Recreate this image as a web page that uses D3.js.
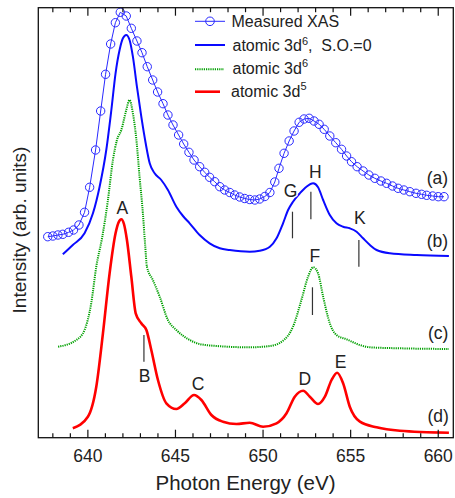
<!DOCTYPE html>
<html><head><meta charset="utf-8">
<script src="https://cdn.jsdelivr.net/npm/d3@7"></script>
<style>
body{margin:0;background:#fff;}
svg{display:block;font-family:"Liberation Sans",Arial,sans-serif;}
</style></head>
<body><svg id="c" width="455" height="498"></svg>
<script>
// ---------- data ----------
const xasE = [637.71,638.00,638.29,638.57,638.90,639.18,639.49,639.81,640.10,640.44,640.73,641.01,641.30,641.57,641.85,642.19,642.48,642.80,643.09,643.39,643.70,643.98,644.29,644.57,644.86,645.18,645.47,645.77,646.06,646.38,646.67,646.95,647.24,647.53,647.81,648.10,648.38,648.67,648.95,649.24,649.53,649.81,650.10,650.39,650.67,650.91,651.20,651.49,651.77,652.06,652.34,652.63,652.91,653.20,653.49,653.81,654.15,654.48,654.77,655.05,655.37,655.71,656.04,656.38,656.73,657.05,657.39,657.71,658.04,658.38,658.73,659.05,659.34,659.68,660.00,660.33];
const xasI = [20.10,20.17,20.27,20.34,20.54,20.77,21.27,22.54,25.04,28.77,32.67,36.34,39.37,41.50,42.54,42.17,40.94,39.67,38.50,37.10,35.77,34.57,33.40,32.27,31.27,30.27,29.37,28.54,27.77,27.10,26.54,26.04,25.60,25.10,24.77,24.52,24.27,24.07,23.92,23.82,23.77,23.87,24.12,24.52,25.57,26.94,28.44,29.67,30.67,31.54,31.87,31.94,31.67,31.34,30.84,30.17,29.50,28.84,28.17,27.60,27.10,26.67,26.27,25.94,25.67,25.44,25.17,24.94,24.77,24.60,24.44,24.34,24.24,24.17,24.10,24.10];

const bE = [638.57,639.14,639.81,640.29,640.67,641.05,641.34,641.58,641.81,642.00,642.19,642.38,642.57,642.80,643.05,643.30,643.53,643.81,644.19,644.57,645.05,645.43,645.81,646.38,646.95,647.53,648.10,649.24,649.81,650.39,650.77,651.14,651.43,651.71,652.10,652.48,652.86,653.14,653.43,653.81,654.19,654.57,654.95,655.34,655.71,656.10,656.48,657.24,658.77,660.61];
const bI = [18.34,19.27,20.44,22.44,25.10,28.77,32.77,36.44,38.77,39.94,40.27,39.77,38.10,35.10,32.10,29.44,27.44,26.44,25.77,24.77,23.10,22.17,21.44,20.27,19.44,18.94,18.77,18.60,18.70,19.10,19.94,21.44,22.77,23.60,24.44,25.10,25.44,25.04,23.77,22.27,21.44,21.10,20.94,20.60,19.94,19.27,18.77,18.44,18.27,18.17];

const cE = [638.30,639.34,639.81,640.19,640.48,640.81,641.13,641.43,641.66,641.91,642.19,642.38,642.57,642.77,642.95,643.14,643.27,643.37,643.71,644.10,644.57,645.05,645.81,646.38,647.34,649.24,650.38,651.14,651.71,652.19,652.57,652.86,653.14,653.43,653.81,654.19,654.77,655.53,656.10,657.81,660.61];
const cI = [9.10,9.77,10.77,13.44,17.10,19.97,23.57,27.77,29.77,30.77,32.77,33.77,32.44,29.77,26.10,22.44,19.27,17.10,15.77,14.10,11.77,10.77,9.77,9.37,9.17,9.04,9.17,9.70,11.10,13.77,16.10,17.04,16.44,14.10,11.44,10.27,9.84,9.27,9.04,8.94,8.87];

const dE = [639.14,640.00,640.48,640.86,641.24,641.58,641.75,641.91,642.06,642.23,642.48,642.73,643.05,643.34,643.62,644.00,644.48,645.05,645.53,646.06,646.48,647.05,647.71,648.48,649.24,650.00,650.77,651.34,651.81,652.29,652.67,653.14,653.53,653.91,654.23,654.57,654.95,655.53,656.48,657.81,660.61];
const dI = [0.94,2.10,5.10,10.44,16.44,20.44,21.52,21.85,21.37,19.77,16.10,12.44,11.44,10.77,8.77,5.77,3.44,2.87,3.44,4.27,3.77,2.27,1.60,1.37,1.50,1.10,1.44,2.44,4.10,4.70,4.10,3.37,4.10,5.77,6.50,5.44,3.10,1.60,1.04,0.70,0.50];

const xTicks = [640,645,650,655,660];
const peakNames = ["A","B","C","D","E","F","G","H","K"];
const peakE     = [641.97,643.24,646.29,652.38,654.42,652.95,651.57,652.99,655.53];
const peakI     = [22.42,5.60,4.82,5.27,6.94,17.60,24.10,25.94,21.37];
const markE  = [643.20,652.82,651.68,652.73,655.47];
const markI1 = [10.27,15.04,22.60,24.60,19.77];
const markI2 = [7.60,12.27,19.94,21.84,17.10];
const curveNames = ["(a)","(b)","(c)","(d)"];
const curveLabE = [659.95,659.95,660.0,660.0];
const curveLabI = [25.37,19.04,9.84,1.60];

// ---------- chart ----------
const svg = d3.select("#c");
const L=38.3,R=453.3,T=7.7,B=437.7;
const x = d3.scaleLinear().domain([637.17,660.86]).range([L,R]);
const y = d3.scaleLinear().domain([0,43]).range([B,T]);
const txt = "#222";

const zip = (E,I)=>E.map((e,i)=>[e,I[i]]);
const line = d3.line().x(d=>x(d[0])).y(d=>y(d[1])).curve(d3.curveMonotoneX);
const lineLin = d3.line().x(d=>x(d[0])).y(d=>y(d[1]));

// curves
svg.append("path").attr("d",line(zip(dE,dI))).attr("fill","none").attr("stroke","#ff0000").attr("stroke-width",2.6);
svg.append("path").attr("d",line(zip(cE,cI))).attr("fill","none").attr("stroke","#00a000").attr("stroke-width",2).attr("stroke-dasharray","1.2,1");
svg.append("path").attr("d",line(zip(bE,bI))).attr("fill","none").attr("stroke","#0a0aff").attr("stroke-width",2);
svg.append("path").attr("d",lineLin(zip(xasE,xasI))).attr("fill","none").attr("stroke","#2a2aff").attr("stroke-width",1);
svg.append("g").selectAll("circle").data(zip(xasE,xasI)).join("circle")
  .attr("cx",d=>x(d[0])).attr("cy",d=>y(d[1])).attr("r",4.2)
  .attr("fill","none").attr("stroke","#2a2aff").attr("stroke-width",1);

// markers
svg.append("g").selectAll("line").data(markE).join("line")
  .attr("x1",d=>x(d)).attr("x2",d=>x(d))
  .attr("y1",(d,i)=>y(markI1[i])).attr("y2",(d,i)=>y(markI2[i]))
  .attr("stroke","#333").attr("stroke-width",1.2);

// peak labels
svg.append("g").selectAll("text").data(peakNames).join("text")
  .attr("x",(d,i)=>x(peakE[i])).attr("y",(d,i)=>y(peakI[i]))
  .attr("text-anchor","middle").attr("font-size",17.5).attr("fill",txt)
  .attr("stroke",d=>d==="G"?"#fff":"none").attr("stroke-width",3).attr("paint-order","stroke")
  .text(d=>d);

// curve labels
svg.append("g").selectAll("text").data(curveNames).join("text")
  .attr("x",(d,i)=>x(curveLabE[i])).attr("y",(d,i)=>y(curveLabI[i]))
  .attr("text-anchor","middle").attr("font-size",17.5).attr("fill",txt).text(d=>d);

// frame and axes
svg.append("rect").attr("x",L).attr("y",T).attr("width",R-L).attr("height",B-T)
  .attr("fill","none").attr("stroke","#111").attr("stroke-width",1.3);
const minor = d3.range(638,661,1);
const gB = svg.append("g");
gB.selectAll("line.b").data(minor).join("line").attr("class","b")
  .attr("x1",d=>x(d)).attr("x2",d=>x(d)).attr("y1",B)
  .attr("y2",d=>B-(d%5===0?8:4.5)).attr("stroke","#111").attr("stroke-width",1.2);
gB.selectAll("line.t").data(minor).join("line").attr("class","t")
  .attr("x1",d=>x(d)).attr("x2",d=>x(d)).attr("y1",T)
  .attr("y2",d=>T+(d%5===0?8:4.5)).attr("stroke","#111").attr("stroke-width",1.2);
svg.append("g").selectAll("text").data(xTicks).join("text")
  .attr("x",d=>x(d)).attr("y",461.5).attr("text-anchor","middle")
  .attr("font-size",17.5).attr("fill",txt).text(d=>d);

svg.append("text").attr("x",245.5).attr("y",490).attr("text-anchor","middle")
  .attr("font-size",20.5).attr("fill",txt).text("Photon Energy (eV)");
svg.append("text").attr("transform","translate(26,230) rotate(-90)").attr("text-anchor","middle")
  .attr("font-size",19).attr("fill",txt).text("Intensity (arb. units)");

// legend
const lg = svg.append("g").attr("font-size",16).attr("fill",txt);
lg.append("line").attr("x1",195).attr("x2",225).attr("y1",21.3).attr("y2",21.3).attr("stroke","#2a2aff").attr("stroke-width",1);
lg.append("circle").attr("cx",210).attr("cy",21.3).attr("r",4.3).attr("fill","none").attr("stroke","#2a2aff").attr("stroke-width",1);
lg.append("text").attr("x",231.5).attr("y",26.7).text("Measured XAS");
lg.append("line").attr("x1",195).attr("x2",225).attr("y1",45).attr("y2",45).attr("stroke","#0a0aff").attr("stroke-width",2);
let t2 = lg.append("text").attr("x",232.5).attr("y",50.7);
t2.append("tspan").text("atomic 3d");
t2.append("tspan").attr("font-size",11).attr("dy",-6).text("6");
t2.append("tspan").attr("dy",6).attr("xml:space","preserve").text(",\u00a0 S.O.=0");
lg.append("line").attr("x1",195).attr("x2",224).attr("y1",69.3).attr("y2",69.3).attr("stroke","#00a000").attr("stroke-width",2).attr("stroke-dasharray","1.2,1");
let t3 = lg.append("text").attr("x",232.5).attr("y",74);
t3.append("tspan").text("atomic 3d");
t3.append("tspan").attr("font-size",11).attr("dy",-7).text("6");
lg.append("line").attr("x1",195).attr("x2",220).attr("y1",91.7).attr("y2",91.7).attr("stroke","#ff0000").attr("stroke-width",2.6);
let t4 = lg.append("text").attr("x",231).attr("y",96.7);
t4.append("tspan").text("atomic 3d");
t4.append("tspan").attr("font-size",11).attr("dy",-7).text("5");
</script></body></html>
